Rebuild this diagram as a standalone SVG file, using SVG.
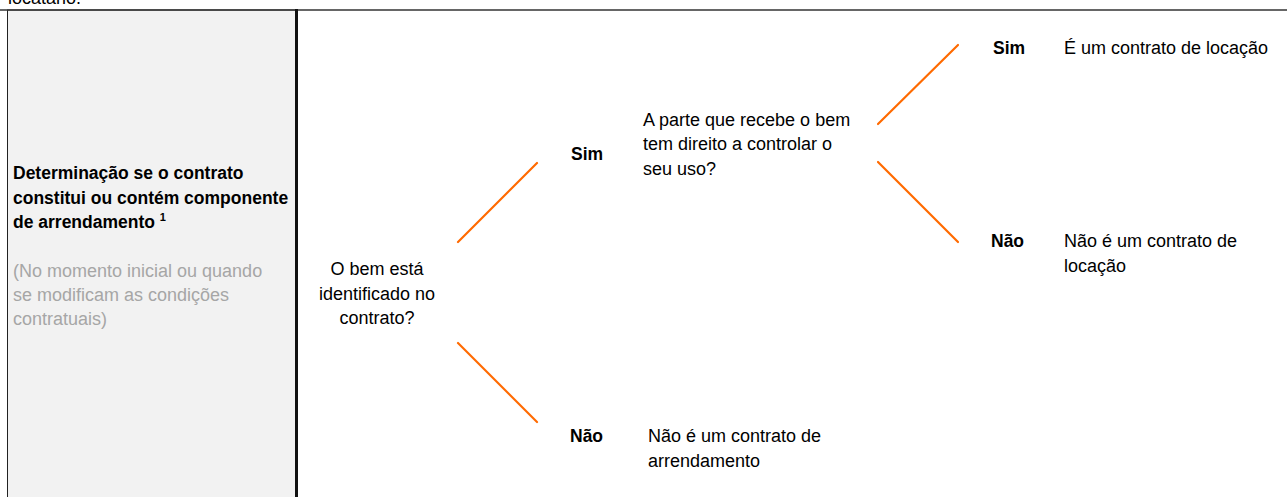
<svg xmlns="http://www.w3.org/2000/svg" width="1287" height="497" viewBox="0 0 1287 497">
<style>
  text { font-family: "Liberation Sans", Arial, sans-serif; font-size: 18px; fill: #000; }
  .b { font-weight: bold; font-size: 17.5px; }
  .g { fill: #a6a6a6; }
  .c { text-anchor: middle; }
  .conn line { stroke: #ff6a00; stroke-width: 2.2; stroke-linecap: round; }
</style>
<rect width="1287" height="497" fill="#fff"/>
<text x="8" y="4">locatário.</text>
<g id="panel">
  <rect x="7.5" y="10" width="289" height="490" fill="#f2f2f2" stroke="#222" stroke-width="1"/>
  <line x1="0" y1="10" x2="1287" y2="10" stroke="#333" stroke-width="1.6"/>
  <line x1="296.5" y1="9" x2="296.5" y2="497" stroke="#111" stroke-width="3"/>
  <text class="b" x="13" y="179">Determinação se o contrato</text>
  <text class="b" x="13" y="203.5">constitui ou contém componente</text>
  <text class="b" x="13" y="228">de arrendamento <tspan font-size="11" dy="-7">1</tspan></text>
  <text class="g" x="13" y="277">(No momento inicial ou quando</text>
  <text class="g" x="13" y="301">se modificam as condições</text>
  <text class="g" x="13" y="325">contratuais)</text>
</g>
<g class="conn" id="connectors">
  <line x1="458" y1="242" x2="537" y2="163"/>
  <line x1="458" y1="343" x2="537" y2="422"/>
  <line x1="878" y1="124" x2="958" y2="45"/>
  <line x1="878" y1="162" x2="958" y2="242"/>
</g>
<g id="q1">
  <text class="c" x="377" y="275">O bem está</text>
  <text class="c" x="377" y="299.5">identificado no</text>
  <text class="c" x="377" y="324">contrato?</text>
</g>
<g id="sim1"><text class="b" x="571" y="160">Sim</text></g>
<g id="q2">
  <text x="643" y="125.5">A parte que recebe o bem</text>
  <text x="643" y="150">tem direito a controlar o</text>
  <text x="643" y="174.5">seu uso?</text>
</g>
<g id="nao1"><text class="b" x="570" y="442">Não</text></g>
<g id="r1">
  <text x="648" y="442">Não é um contrato de</text>
  <text x="648" y="466.5">arrendamento</text>
</g>
<g id="sim2"><text class="b" x="993" y="54">Sim</text></g>
<g id="r2"><text x="1064" y="54">É um contrato de locação</text></g>
<g id="nao2"><text class="b" x="991" y="247">Não</text></g>
<g id="r3">
  <text x="1064" y="247">Não é um contrato de</text>
  <text x="1064" y="271.5">locação</text>
</g>
</svg>
